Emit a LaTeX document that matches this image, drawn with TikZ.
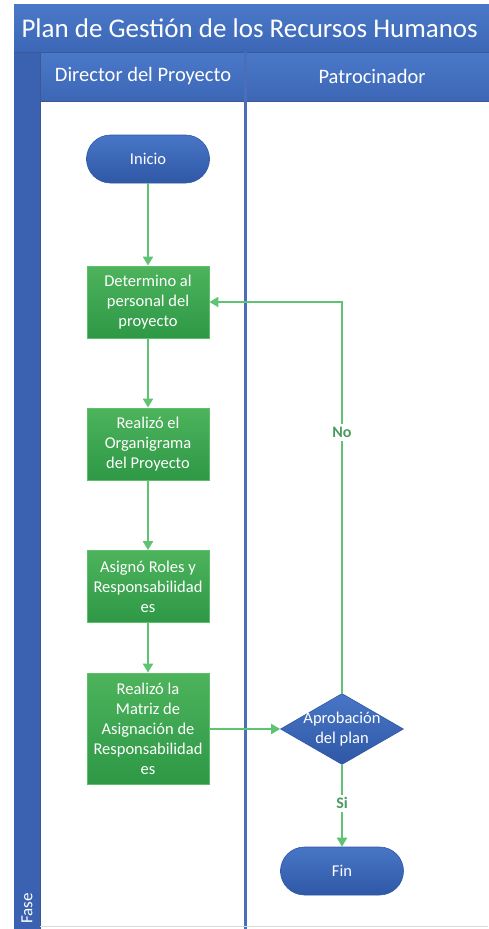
\documentclass[tikz,border=0pt]{standalone}
\usepackage{fontspec}
\setmainfont{Carlito}
\usetikzlibrary{shapes.geometric,arrows.meta}
\definecolor{barTop}{HTML}{4A78C8}
\definecolor{barBot}{HTML}{3C67B6}
\definecolor{faseBlue}{HTML}{3A62B0}
\definecolor{laneLine}{HTML}{4A6FB8}
\definecolor{greenTop}{HTML}{4DB35C}
\definecolor{greenBot}{HTML}{2E9846}
\definecolor{greenEdge}{HTML}{5CC06A}
\definecolor{flowGreen}{HTML}{5FC472}
\definecolor{shapeTop}{HTML}{4876C6}
\definecolor{shapeBot}{HTML}{2F58A6}
\definecolor{labelGreen}{HTML}{4A9C5E}
\tikzset{
  procbox/.style={rectangle, minimum width=122pt, top color=greenTop, bottom color=greenBot,
    draw=greenEdge, line width=0.8pt, text=white, align=center, inner sep=1pt,
    font=\fontsize{16.5}{20}\selectfont},
  termbox/.style={rectangle, rounded corners=24pt, minimum width=123pt, minimum height=48pt,
    top color=shapeTop, bottom color=shapeBot, draw=shapeBot, line width=0.6pt,
    text=white, font=\fontsize{16.5}{20}\selectfont},
  decbox/.style={diamond, minimum width=123pt, minimum height=71pt, inner sep=0pt,
    top color=shapeTop, bottom color=shapeBot, draw=shapeBot, line width=0.6pt},
  flow/.style={draw=flowGreen, line width=2pt, -{Triangle[length=9pt,width=10pt]}},
  flowlabel/.style={fill=white, text=labelGreen, inner sep=3pt, font=\bfseries\fontsize{16}{18}\selectfont},
  hdrtext/.style={text=white, font=\fontsize{20.5}{24}\selectfont},
}
\begin{document}
\begin{tikzpicture}[x=1pt,y=-1pt]
\useasboundingbox (0,0) rectangle (488,929);
\fill[white] (0,0) rectangle (488,929);

% title bar, phase strip and lane headers
\shade[top color=barTop, bottom color=barBot] (14,4) rectangle (490,52);
\fill[faseBlue] (14,52) rectangle (40,929);
\shade[top color=barTop, bottom color=barBot] (40,52) rectangle (490,101);
\draw[laneLine!80!black, line width=0.8pt] (14,52) -- (490,52);
\draw[laneLine!80!black, line width=0.8pt] (40,101) -- (490,101);
\draw[laneLine!80!black, line width=1pt] (40,52) -- (40,929);
\draw[laneLine, line width=3pt] (245,52) -- (245,929);
\draw[black!15, line width=0.8pt] (40,926.5) -- (488,926.5);

\node[anchor=west, text=white, font=\fontsize{27}{30}\selectfont] (title) at (18,28) {Plan de Gestión de los Recursos Humanos};
\node[hdrtext] (lane1) at (143,76) {Director del Proyecto};
\node[hdrtext] (lane2) at (372,76) {Patrocinador};
\node[text=white, rotate=90, anchor=west, inner sep=2pt, font=\fontsize{17}{19}\selectfont] (fase) at (27,926) {Fase};

% process nodes
\node[termbox] (inicio) at (148,159) {Inicio};
\node[procbox, minimum height=72pt] (p1) at (148,302) {Determino al\\personal del\\proyecto};
\node[procbox, minimum height=72pt] (p2) at (148,444) {Realizó el\\Organigrama\\del Proyecto};
\node[procbox, minimum height=72pt] (p3) at (148,586.5) {Asignó Roles y\\Responsabilidad\\es};
\node[procbox, minimum height=111pt] (p4) at (148,728.5) {Realizó la\\Matriz de\\Asignación de\\Responsabilidad\\es};
\node[decbox] (dec) at (342,729) {};
\node[text=white, align=center, font=\fontsize{16.5}{20}\selectfont] (dectext) at (342,729) {Aprobación\\del plan};
\node[termbox] (fin) at (342,871) {Fin};

% connectors
\draw[flow] (inicio) -- (p1);
\draw[flow] (p1) -- (p2);
\draw[flow] (p2) -- (p3);
\draw[flow] (p3) -- (p4);
\draw[flow] (p4.east |- dec.west) -- (dec.west);
\draw[flow] (dec.north) |- (p1.east) node[flowlabel, pos=0.333] (nolbl) {No};
\draw[flow] (dec.south) -- (fin.north) node[flowlabel, pos=0.47] (silbl) {Si};
\end{tikzpicture}
\end{document}
